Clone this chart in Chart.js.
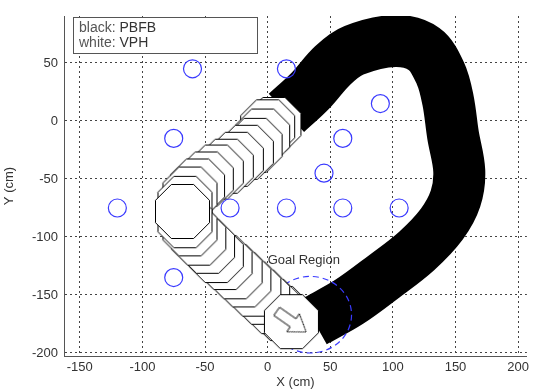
<!DOCTYPE html>
<html>
<head>
<meta charset="utf-8">
<script src="https://cdn.jsdelivr.net/npm/chart.js@4.4.1/dist/chart.umd.min.js"></script>
<style>
  html, body { margin: 0; padding: 0; background: #fff; }
</style>
</head>
<body>
<canvas id="chart" width="533" height="390"></canvas>
<script>
"use strict";

// axis ticks (cm)
var xTicks = [-150, -100, -50, 0, 50, 100, 150, 200];
var yTicks = [-200, -150, -100, -50, 0, 50];

// obstacles (cm)
var obsX = [-60, 15, 90, -75, 60, 45, -120, -30, 15, 60, 105, -75];
var obsY = [45, 45, 15, -15, -15, -45, -75, -75, -75, -75, -75, -135];

// PBFB trajectory (black band), centre line
var pbfbX = [15, 34, 52, 69, 102, 125, 138, 144, 148, 153, 150, 139, 119, 93, 65, 37];
var pbfbY = [7, 26, 48, 61, 69, 62, 41, 18, -12, -43, -67, -89, -112, -134, -156, -173];

// VPH poses (white octagons), in path order
var vphX = [5, 0, -4, -10, -17, -25, -33, -41, -49, -56, -62, -66, -68, -66, -62, -55, -48, -41, -34, -26, -19, -11, -4, 4, 11, 19];
var vphY = [-3, -5, -13, -21, -27, -33, -39, -44, -50, -56, -63, -71, -78, -86, -93, -101, -108, -116, -122, -130, -137, -145, -152, -160, -166, -173];
var vphTurn = 12;          // index where the path turns
var arrowHeading = 35;     // degrees below the x axis

// goal region
var goalX = 34, goalY = -167, goalR = 33;
var goalLabel = "Goal Region";
var goalLabelX = 0, goalLabelY = -120;

var legendLines = [["black: ", "PBFB"], ["white: ", "VPH"]];

var FONT = '"Liberation Sans", Arial, sans-serif';
Chart.defaults.font.family = FONT;
Chart.defaults.color = "#333";

function pts(xs, ys) {
    return xs.map(function (x, i) { return {x: x, y: ys[i]}; });
}

function makeOctagon(d) {
    var c = document.createElement("canvas");
    var n = Math.ceil(d) + 3;
    c.width = n; c.height = n;
    var g = c.getContext("2d");
    var h = d / 2, k = d * 0.2071, m = n / 2;
    var p = [[-k, -h], [k, -h], [h, -k], [h, k], [k, h], [-k, h], [-h, k], [-h, -k]];
    g.beginPath();
    p.forEach(function (q, i) {
        if (i) g.lineTo(m + q[0], m + q[1]); else g.moveTo(m + q[0], m + q[1]);
    });
    g.closePath();
    g.fillStyle = "#fff";
    g.fill();
    g.strokeStyle = "#000";
    g.lineWidth = 1;
    g.stroke();
    return c;
}

function makeArrow() {
    var c = document.createElement("canvas");
    c.width = 42; c.height = 28;
    var g = c.getContext("2d");
    g.translate(21, 14);
    var p = [[-18, -5], [2, -5], [2, -11], [18, 0], [2, 11], [2, 5], [-18, 5]];
    g.beginPath();
    p.forEach(function (q, i) {
        if (i) g.lineTo(q[0], q[1]); else g.moveTo(q[0], q[1]);
    });
    g.closePath();
    g.strokeStyle = "#222";
    g.lineWidth = 1;
    g.stroke();
    return c;
}

var octImg = makeOctagon(54);
var arrowImg = makeArrow();

// draw order: both legs towards the turn, so the turn ends on top
var last = vphX.length - 1;
var trail = [];
for (var i = 0; i < vphTurn; i++) trail.push({x: vphX[i], y: vphY[i]});
for (var j = last - 1; j >= vphTurn; j--) trail.push({x: vphX[j], y: vphY[j]});
var finalPose = [{x: vphX[last], y: vphY[last]}];

var PBFB_INDEX = 4;

var overlay = {
    id: "overlay",
    afterDatasetDraw: function (chart, args) {
        if (args.index !== PBFB_INDEX) return;
        // goal region sits over the black band, under the octagons
        var ctx = chart.ctx, xs = chart.scales.x, ys = chart.scales.y;
        var cx = xs.getPixelForValue(goalX), cy = ys.getPixelForValue(goalY);
        var rx = Math.abs(xs.getPixelForValue(goalX + goalR) - cx);
        var ry = Math.abs(ys.getPixelForValue(goalY + goalR) - cy);
        ctx.save();
        ctx.strokeStyle = "#3a3aff";
        ctx.lineWidth = 1.2;
        ctx.setLineDash([6, 4]);
        ctx.beginPath();
        ctx.ellipse(cx, cy, rx, ry, 0, 0, 2 * Math.PI);
        ctx.stroke();
        ctx.restore();
    },
    afterDatasetsDraw: function (chart) {
        var ctx = chart.ctx, xs = chart.scales.x, ys = chart.scales.y;
        ctx.save();
        ctx.fillStyle = "#333";
        ctx.font = "13px " + FONT;
        ctx.textBaseline = "middle";
        ctx.fillText(goalLabel, xs.getPixelForValue(goalLabelX), ys.getPixelForValue(goalLabelY));
        ctx.restore();
    },
    afterDraw: function (chart) {
        var ctx = chart.ctx, a = chart.chartArea;
        var bx = a.left + 9, by = a.top + 1;
        ctx.save();
        ctx.fillStyle = "#fff";
        ctx.fillRect(bx, by, 184, 36);
        ctx.strokeStyle = "#555";
        ctx.lineWidth = 1;
        ctx.strokeRect(bx + 0.5, by + 0.5, 184, 36);
        ctx.font = "14px " + FONT;
        ctx.textBaseline = "middle";
        legendLines.forEach(function (ln, i) {
            var ty = by + 11 + i * 15;
            ctx.fillStyle = "#555";
            ctx.fillText(ln[0], bx + 6, ty);
            ctx.fillStyle = "#333";
            ctx.fillText(ln[1], bx + 6 + ctx.measureText(ln[0]).width, ty);
        });
        ctx.restore();
    }
};

function axis(ticks, pad, extra) {
    var o = {
        type: "linear",
        afterBuildTicks: function (s) {
            s.ticks = ticks.map(function (v) { return {value: v}; });
        },
        grid: {color: "#444", lineWidth: 1, drawTicks: false},
        border: {display: true, color: "#555", width: 1, dash: [2, 3]},
        ticks: {font: {size: 13}, color: "#333", padding: pad, maxRotation: 0, autoSkip: false}
    };
    return Object.assign(o, extra);
}

new Chart(document.getElementById("chart"), {
    type: "scatter",
    data: {
        datasets: [
            {   // arrow in the final VPH pose
                data: finalPose,
                pointStyle: arrowImg,
                pointRadius: 1,
                pointRotation: arrowHeading,
                order: 0
            },
            {   // obstacles
                data: pts(obsX, obsY),
                pointStyle: "circle",
                pointRadius: 9,
                borderColor: "#3a3aff",
                borderWidth: 1.2,
                backgroundColor: "rgba(0,0,0,0)",
                order: 1
            },
            {
                data: finalPose,
                pointStyle: octImg,
                pointRadius: 1,
                order: 2
            },
            {   // VPH
                data: trail,
                pointStyle: octImg,
                pointRadius: 1,
                order: 3
            },
            {   // PBFB
                data: pts(pbfbX, pbfbY),
                showLine: true,
                pointRadius: 0,
                borderColor: "#000",
                borderWidth: 52,
                borderCapStyle: "butt",
                borderJoinStyle: "round",
                tension: 0.35,
                fill: false,
                order: 4
            }
        ]
    },
    options: {
        responsive: false,
        animation: false,
        devicePixelRatio: 1,
        events: [],
        layout: {autoPadding: false, padding: {top: 16, right: 2, left: 0, bottom: 0}},
        plugins: {legend: {display: false}, tooltip: {enabled: false}},
        scales: {
            x: axis(xTicks, 4, {
                position: "bottom",
                min: -162.6, max: 207,
                afterFit: function (s) { s.height = 34; },
                title: {display: true, text: "X (cm)", font: {size: 13}, color: "#333", padding: {top: 0, bottom: 0}}
            }),
            y: axis(yTicks, 6, {
                position: "left",
                min: -202.6, max: 90.5,
                afterFit: function (s) { s.width = 64; },
                title: {display: true, text: "Y (cm)", font: {size: 13}, color: "#333", padding: {top: 2, bottom: 0}}
            })
        }
    },
    plugins: [overlay]
});
</script>
</body>
</html>
